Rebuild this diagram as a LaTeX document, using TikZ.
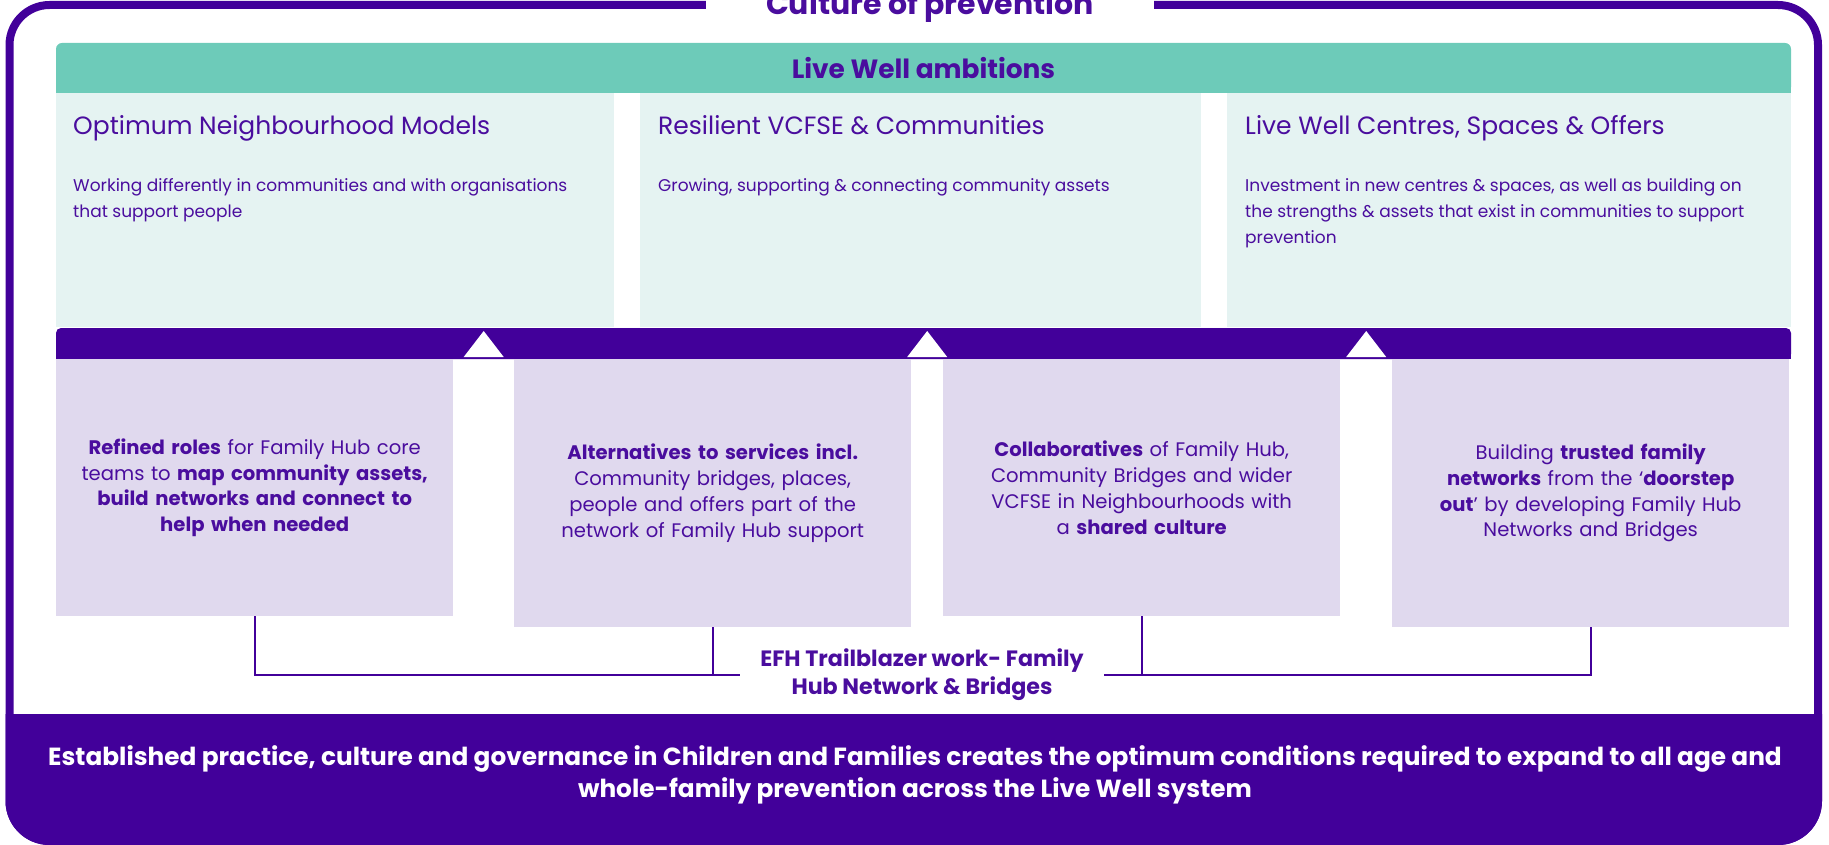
\documentclass[tikz,border=0pt]{standalone}
\usepackage{fontspec}
\setmainfont{Poppins}
\usepackage{xcolor}
\usepackage{tikz}
\usetikzlibrary{positioning,calc}

\definecolor{lwpurple}{HTML}{42009A}
\definecolor{lwtext}{HTML}{4A0D9E}
\definecolor{lwteal}{HTML}{6DCBB9}
\definecolor{lwpale}{HTML}{E5F3F2}
\definecolor{lwlilac}{HTML}{E0D9EE}

\tikzset{
  ambbox/.style={fill=lwpale, anchor=north west, minimum height=234pt, inner sep=0pt},
  ambtitle/.style={anchor=base west, text=lwtext, inner sep=0pt, font=\fontsize{25}{30}\selectfont},
  ambtext/.style={anchor=north west, text=lwtext, align=left, inner sep=0pt, font=\fontsize{17}{26}\selectfont, execute at begin node=\strut},
  workbox/.style={fill=lwlilac, anchor=north west, minimum width=397pt, text width=375pt, align=center, text=lwtext, font=\fontsize{19.6}{25.7}\selectfont},
  link/.style={lwpurple, line width=2pt},
}

\begin{document}
\begin{tikzpicture}[x=1pt, y=-1pt]
        \useasboundingbox (0,0) rectangle (1829,845);

        % outer frame and bottom band
        \begin{scope}
            \clip[rounded corners=44pt] (5.5,1) rectangle (1822,845);
            \fill[lwpurple] (0,714) rectangle (1829,845);
        \end{scope}
        \draw[lwpurple, line width=8pt, rounded corners=40pt] (9.5,5) rectangle (1818,841);
        \node[fill=white, inner xsep=60pt, anchor=base, text=lwtext, font=\bfseries\fontsize{30}{34}\selectfont] (title) at (930,15) {Culture of prevention};

        % Live Well ambitions
        \fill[lwteal] (56,70) rectangle (1791,93);
        \node[fill=lwteal, rounded corners=6pt, minimum width=1735pt, minimum height=50pt, text=lwtext, font=\bfseries\fontsize{26.4}{30}\selectfont] (hdr) at (923.5,68) {Live Well ambitions};

        \node[ambbox, minimum width=558pt] (a1) at (56,93) {};
        \node[ambbox, minimum width=561pt] (a2) at (640,93) {};
        \node[ambbox, minimum width=564pt] (a3) at (1227,93) {};

        \node[ambtitle] (t1) at ($(a1.north west)+(17,42)$) {Optimum Neighbourhood Models};
        \node[ambtitle] (t2) at ($(a2.north west)+(18,42)$) {Resilient VCFSE \& Communities};
        \node[ambtitle] (t3) at ($(a3.north west)+(18,42)$) {Live Well Centres, Spaces \& Offers};

        \node[ambtext] (d1) at ($(a1.north west)+(17,85)$) {Working differently in communities and with organisations\\that support people};
        \node[ambtext] (d2) at ($(a2.north west)+(18,80)$) {Growing, supporting \& connecting community assets};
        \node[ambtext] (d3) at ($(a3.north west)+(18,85)$) {Investment in new centres \& spaces, as well as building on\\the strengths \& assets that exist in communities to support\\prevention};

        % purple bar
        \fill[lwpurple] (56,345) rectangle (1791,359);
        \node[fill=lwpurple, rounded corners=5pt, minimum width=1735pt, minimum height=31pt, inner sep=0pt] (bar) at (923.5,343.5) {};

        % trailblazer work boxes
        \node[workbox, minimum height=257pt] (r1) at (56,359) {\textbf{Refined roles} for Family Hub core\\teams to \textbf{map community assets,}\\\textbf{build networks and connect to}\\\textbf{help when needed}};
        \node[workbox, minimum height=268pt] (r2) at (514,359) {\textbf{Alternatives to services incl.}\\Community bridges, places,\\people and offers part of the\\network of Family Hub support};
        \node[workbox, minimum height=257pt] (r3) at (943,359) {\textbf{Collaboratives} of Family Hub,\\Community Bridges and wider\\VCFSE in Neighbourhoods with\\a \textbf{shared culture}};
        \node[workbox, minimum height=268pt] (r4) at (1392,359) {Building \textbf{trusted family}\\\textbf{networks} from the `\textbf{doorstep}\\\textbf{out}' by developing Family Hub\\Networks and Bridges};

        \coordinate (g1) at ($(r1.north east)!.5!(r2.north west)$);
        \coordinate (g2) at ($(r2.north east)!.5!(r3.north west)$);
        \coordinate (g3) at ($(r3.north east)!.5!(r4.north west)$);
        \fill[white] ($(g1)+(-20,-2)$) -- ($(g1)+(0,-28)$) -- ($(g1)+(20,-2)$) -- cycle;
        \fill[white] ($(g2)+(-20,-2)$) -- ($(g2)+(0,-28)$) -- ($(g2)+(20,-2)$) -- cycle;
        \fill[white] ($(g3)+(-20,-2)$) -- ($(g3)+(0,-28)$) -- ($(g3)+(20,-2)$) -- cycle;

        % links to the trailblazer label
        \node[align=center, inner xsep=20pt, text=lwtext, font=\bfseries\fontsize{22.2}{28}\selectfont] (efh) at (922,675) {EFH Trailblazer work- Family\\Hub Network \& Bridges};
        \draw[link] (r1.south) |- (efh.west);
        \draw[link] (r2.south) -- (r2.south |- efh.west);
        \draw[link] (r3.south) -- (r3.south |- efh.east);
        \draw[link] (r4.south) |- (efh.east);

        \node[align=center, text=white, font=\bfseries\fontsize{24.8}{32.5}\selectfont] (base) at (915,775) {Established practice, culture and governance in Children and Families creates the optimum conditions required to expand to all age and\\whole-family prevention across the Live Well system};
    \end{tikzpicture}
\end{document}
